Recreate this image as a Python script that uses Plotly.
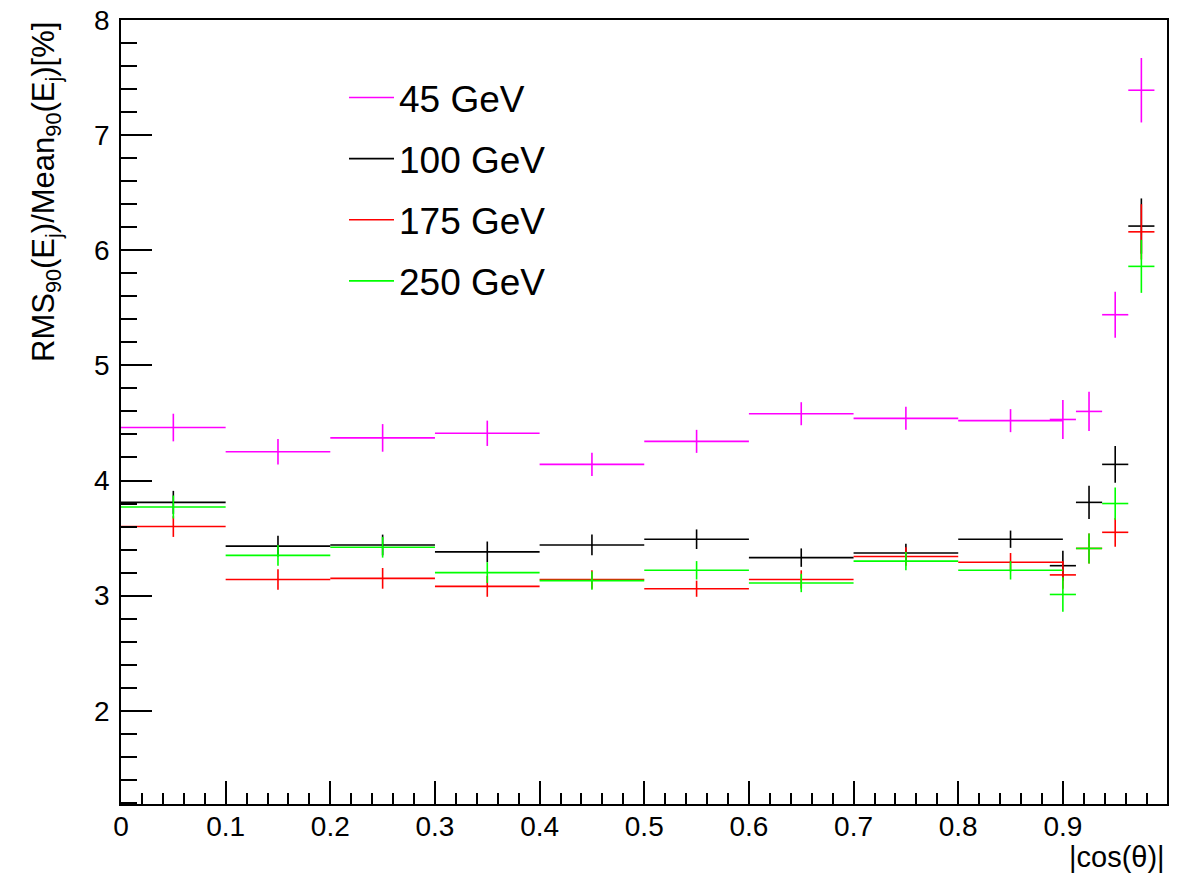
import plotly.graph_objects as go

# |cos(theta)| bin centres and half widths
x_centers = [0.05, 0.15, 0.25, 0.35, 0.45, 0.55, 0.65, 0.75, 0.85, 0.9, 0.925, 0.95, 0.975]
x_halfwidth = [0.05, 0.05, 0.05, 0.05, 0.05, 0.05, 0.05, 0.05, 0.05, 0.0125, 0.0125, 0.0125, 0.0125]

series_names = ["45 GeV", "100 GeV", "175 GeV", "250 GeV"]

e45 = [4.46, 4.25, 4.37, 4.41, 4.14, 4.34, 4.58, 4.54, 4.52, 4.53, 4.60, 5.44, 7.39]
e45_err = [0.12, 0.11, 0.12, 0.11, 0.10, 0.10, 0.10, 0.10, 0.10, 0.17, 0.17, 0.20, 0.28]

e100 = [3.81, 3.43, 3.44, 3.38, 3.44, 3.49, 3.33, 3.37, 3.49, 3.26, 3.81, 4.14, 6.21]
e100_err = [0.10, 0.09, 0.09, 0.09, 0.09, 0.085, 0.08, 0.08, 0.075, 0.13, 0.145, 0.16, 0.24]

e175 = [3.60, 3.14, 3.15, 3.08, 3.14, 3.06, 3.14, 3.34, 3.29, 3.18, 3.41, 3.55, 6.16]
e175_err = [0.09, 0.09, 0.09, 0.09, 0.08, 0.07, 0.08, 0.08, 0.08, 0.12, 0.13, 0.125, 0.24]

e250 = [3.77, 3.35, 3.42, 3.20, 3.13, 3.22, 3.11, 3.30, 3.22, 3.01, 3.41, 3.80, 5.86]
e250_err = [0.10, 0.09, 0.09, 0.09, 0.08, 0.08, 0.08, 0.08, 0.08, 0.15, 0.13, 0.14, 0.23]

colors = ["#ff00ff", "#000000", "#ff0000", "#00ff00"]
values = [e45, e100, e175, e250]
errors = [e45_err, e100_err, e175_err, e250_err]

FONT = "Liberation Sans, Arial, Helvetica, sans-serif"

# page has an 8px body margin: figure is sized to fit inside the window
W, H = 1183, 868
L, T, R, B = 113, 12, 24, 72
PW, PH = W - L - R, H - T - B

fig = go.Figure()

for name, col, ys, es in zip(series_names, colors, values, errors):
    fig.add_trace(go.Scatter(
        x=x_centers, y=ys, mode="markers",
        marker=dict(size=1, color=col),
        error_x=dict(type="data", array=x_halfwidth, color=col, thickness=1.6, width=0),
        error_y=dict(type="data", array=es, color=col, thickness=1.6, width=0),
        showlegend=False, hoverinfo="x+y", legendgroup=name,
    ))

for name, col in zip(series_names, colors):
    fig.add_trace(go.Scatter(
        x=[None], y=[None], mode="lines", name=name,
        line=dict(color=col, width=1.6), legendgroup=name, showlegend=True,
    ))

fig.update_layout(
    width=W, height=H,
    margin=dict(l=L, r=R, t=T, b=B, autoexpand=False),
    paper_bgcolor="white", plot_bgcolor="white",
    font=dict(family=FONT, size=28, color="black"),
    showlegend=True,
    legend=dict(
        x=(344 - 121) / PW, y=1 - (67 - 20) / PH, xanchor="left", yanchor="top",
        bgcolor="rgba(0,0,0,0)", borderwidth=0,
        font=dict(family=FONT, size=37, color="black"),
        traceorder="grouped", tracegroupgap=10, itemwidth=45,
    ),
    xaxis=dict(
        range=[0, 0.9995], dtick=0.1, tick0=0, automargin=False,
        ticks="inside", ticklen=23, tickwidth=1.5, tickcolor="black",
        minor=dict(dtick=0.02, ticks="inside", ticklen=11, tickwidth=1.5, tickcolor="black"),
        showline=True, linecolor="black", linewidth=1.5, mirror=True,
        showgrid=False, zeroline=False,
        tickfont=dict(family=FONT, size=28, color="black"),
        ticklabelstandoff=-3, ticklabeloverflow="allow",
    ),
    yaxis=dict(
        range=[1.19, 8], dtick=1, tick0=0, automargin=False,
        ticks="inside", ticklen=31, tickwidth=1.5, tickcolor="black",
        minor=dict(dtick=0.2, ticks="inside", ticklen=16, tickwidth=1.5, tickcolor="black"),
        showline=True, linecolor="black", linewidth=1.5, mirror=True,
        showgrid=False, zeroline=False,
        tickfont=dict(family=FONT, size=28, color="black"),
        ticklabelstandoff=4, ticklabeloverflow="allow",
    ),
    annotations=[
        dict(text="RMS<sub>90</sub>(E<sub>j</sub>)/Mean<sub>90</sub>(E<sub>j</sub>)[%]",
             xref="paper", yref="paper", x=(46 - 121) / PW, y=1,
             xanchor="center", yanchor="top", textangle=-90, showarrow=False,
             font=dict(family=FONT, size=31, color="black")),
        dict(text="|cos(θ)|",
             xref="paper", yref="paper", x=1, y=-(857 - 804) / PH,
             xanchor="right", yanchor="middle", showarrow=False,
             font=dict(family=FONT, size=29, color="black")),
    ],
)

fig.write_html("out.html")
